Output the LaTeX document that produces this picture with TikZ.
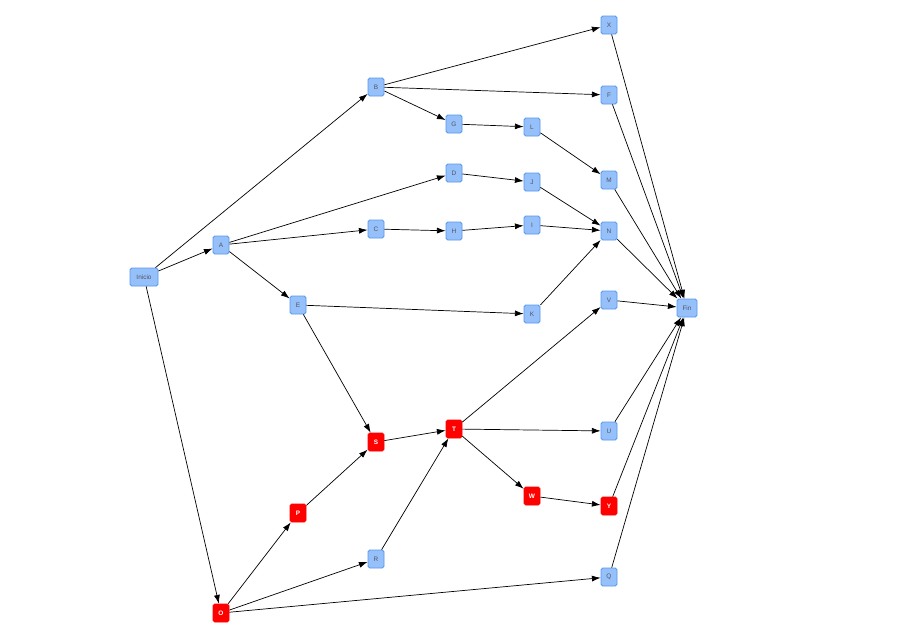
\documentclass[tikz,border=0pt]{standalone}
\usepackage{fontspec}
\setsansfont{Liberation Sans}
\usetikzlibrary{arrows.meta,positioning}
\definecolor{taskfill}{RGB}{150,192,250}
\definecolor{taskedge}{RGB}{84,150,238}
\definecolor{tasktext}{RGB}{80,84,100}

\begin{document}
\begin{tikzpicture}[x=0.03cm,y=-0.03cm,
        task/.style={draw=taskedge, line width=0.7pt, fill=taskfill, rounded corners=1.5pt,
            minimum width=0.48cm, minimum height=0.54cm, inner sep=1pt,
            font=\sffamily\fontsize{5.5}{6}\selectfont, text=tasktext},
        crit/.style={task, draw=red, fill=red, text=white, font=\sffamily\bfseries\fontsize{5.5}{6}\selectfont},
        link/.style={-{Latex[length=2.6mm,width=1.8mm]}, line width=0.6pt}]
        \useasboundingbox (0,0) rectangle (918,638);

        % start and end
        \node[task, minimum width=0.84cm] (inicio) at (144,277) {Inicio};
        \node[task, minimum width=0.6cm] (fin) at (687,308) {Fin};

        % upper tasks
        \node[task] (A) at (221,245) {A};
        \node[task] (B) at (376,87) {B};
        \node[task] (C) at (376,229) {C};
        \node[task] (D) at (454,173) {D};
        \node[task] (E) at (298,305) {E};
        \node[task] (F) at (609,95) {F};
        \node[task] (G) at (454,124) {G};
        \node[task] (H) at (454,231) {H};
        \node[task] (I) at (532,225) {I};
        \node[task] (J) at (532,182) {J};
        \node[task] (K) at (532,314) {K};
        \node[task] (L) at (532,127) {L};
        \node[task] (M) at (609,180) {M};
        \node[task] (N) at (609,231) {N};
        \node[task] (X) at (609,25) {X};

        % lower tasks
        \node[crit] (O) at (221,613) {O};
        \node[crit] (P) at (298,513) {P};
        \node[task] (Q) at (609,577) {Q};
        \node[task] (R) at (376,559) {R};
        \node[crit] (S) at (376,442) {S};
        \node[crit] (T) at (454,429) {T};
        \node[task] (U) at (609,431) {U};
        \node[task] (V) at (609,300) {V};
        \node[crit] (W) at (532,496) {W};
        \node[crit] (Y) at (609,506) {Y};

        % dependencies
        \draw[link] (inicio) -- (A);
        \draw[link] (inicio) -- (B);
        \draw[link] (inicio) -- (O);
        \draw[link] (A) -- (D);
        \draw[link] (A) -- (C);
        \draw[link] (A) -- (E);
        \draw[link] (B) -- (X);
        \draw[link] (B) -- (F);
        \draw[link] (B) -- (G);
        \draw[link] (G) -- (L);
        \draw[link] (L) -- (M);
        \draw[link] (D) -- (J);
        \draw[link] (J) -- (N);
        \draw[link] (C) -- (H);
        \draw[link] (H) -- (I);
        \draw[link] (I) -- (N);
        \draw[link] (E) -- (K);
        \draw[link] (E) -- (S);
        \draw[link] (K) -- (N);
        \draw[link] (O) -- (P);
        \draw[link] (O) -- (R);
        \draw[link] (O) -- (Q);
        \draw[link] (P) -- (S);
        \draw[link] (S) -- (T);
        \draw[link] (R) -- (T);
        \draw[link] (T) -- (V);
        \draw[link] (T) -- (U);
        \draw[link] (T) -- (W);
        \draw[link] (W) -- (Y);

        % into Fin
        \foreach \t in {X,F,M,N,V,U,Y,Q}
            \draw[link] (\t) -- (fin);
    \end{tikzpicture}
\end{document}
